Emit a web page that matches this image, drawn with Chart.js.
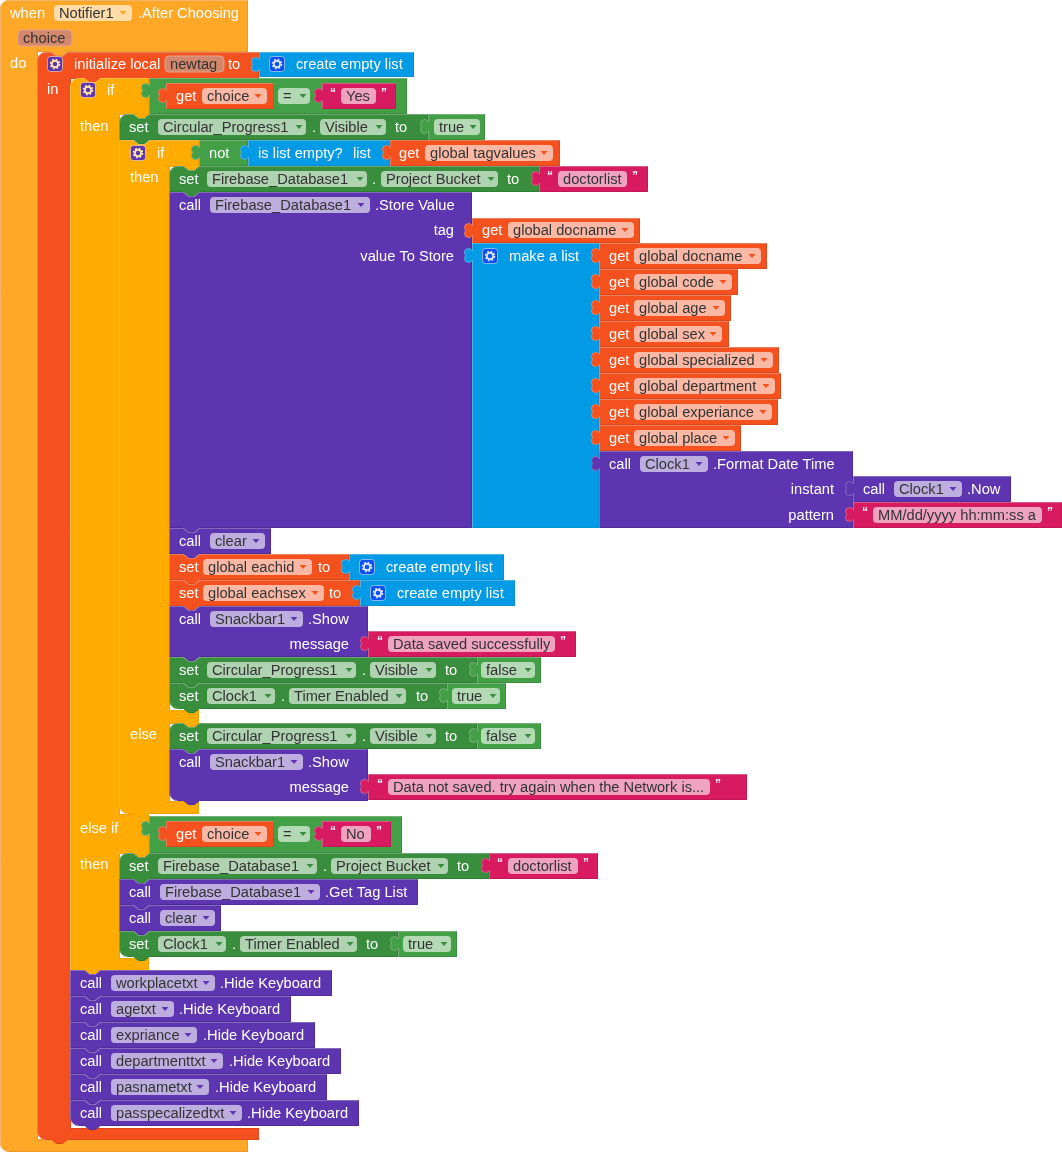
<!DOCTYPE html>
<html>
<head>
<meta charset="utf-8">
<title>Notifier1 After Choosing blocks</title>
<script src="https://cdn.jsdelivr.net/npm/chart.js@4/dist/chart.umd.min.js"></script>
<style>
  html, body { margin: 0; padding: 0; background: #fff; }
  canvas { display: block; }
</style>
</head>
<body>
<canvas id="blocks" width="1062" height="1152"></canvas>
<script>
// --- values, in picture pixels ---

// kind, left, spine, flags, arms [top, bottom, right]
const containers = [
  ['event', 0, 37, 'tb', [[0, 51, 247], [1139, 1151, 247]]],
  ['local', 37, 70, 'tb', [[52, 78, 258], [1128, 1139, 258]]],
  ['control', 70, 119, 't', [[78, 114, 148], [814, 853, 148], [958, 970, 148]]],
  ['control', 119, 169, 'b', [[140, 166, 198], [710, 723, 198], [801, 813, 198]]]
];

// kind, left, top, right, bottom, flags
const statementBlocks = [
  ['setGreen', 119, 114, 428, 140, 't'],
  ['setGreen', 169, 166, 539, 192, 't'],
  ['callPurple', 169, 192, 472, 528, ''],
  ['callPurple', 169, 528, 271, 554, ''],
  ['setOrange', 169, 554, 349, 580, ''],
  ['setOrange', 169, 580, 360, 606, ''],
  ['callPurple', 169, 606, 368, 657, ''],
  ['setGreen', 169, 657, 477, 683, ''],
  ['setGreen', 169, 683, 447, 709, 'b'],
  ['setGreen', 169, 723, 477, 749, 't'],
  ['callPurple', 169, 749, 368, 801, 'b'],
  ['setGreen', 119, 853, 489, 879, 't'],
  ['callPurple', 119, 879, 418, 905, ''],
  ['callPurple', 119, 905, 221, 931, ''],
  ['setGreen', 119, 931, 398, 957, 'b'],
  ['callPurple', 70, 970, 332, 996, ''],
  ['callPurple', 70, 996, 291, 1022, ''],
  ['callPurple', 70, 1022, 315, 1048, ''],
  ['callPurple', 70, 1048, 341, 1074, ''],
  ['callPurple', 70, 1074, 327, 1100, ''],
  ['callPurple', 70, 1100, 359, 1126, 'b']
];

// kind, left, top, right, bottom
const valueBlocks = [
  ['listBlue', 259, 52, 414, 77],
  ['logicGreen', 149, 78, 407, 114],
  ['getOrange', 166, 83, 274, 109],
  ['stringPink', 322, 83, 396, 109],
  ['logicGreen', 428, 114, 485, 140],
  ['logicGreen', 199, 140, 248, 166],
  ['listBlue', 248, 140, 390, 166],
  ['getOrange', 390, 140, 560, 166],
  ['stringPink', 539, 166, 648, 192],
  ['getOrange', 472, 218, 640, 243],
  ['listBlue', 472, 243, 599, 528],
  ['getOrange', 599, 243, 767, 269],
  ['getOrange', 599, 269, 738, 295],
  ['getOrange', 599, 295, 731, 321],
  ['getOrange', 599, 321, 729, 347],
  ['getOrange', 599, 347, 779, 373],
  ['getOrange', 599, 373, 781, 399],
  ['getOrange', 599, 399, 778, 425],
  ['getOrange', 599, 425, 741, 451],
  ['callValue', 599, 451, 853, 528],
  ['callValue', 853, 476, 1011, 502],
  ['stringPink', 853, 502, 1062, 528],
  ['listBlue', 349, 554, 504, 580],
  ['listBlue', 360, 580, 515, 606],
  ['stringPink', 368, 631, 576, 657],
  ['logicGreen', 477, 657, 541, 683],
  ['logicGreen', 447, 683, 506, 709],
  ['logicGreen', 477, 723, 541, 749],
  ['stringPink', 368, 774, 747, 800],
  ['logicGreen', 149, 816, 402, 853],
  ['getOrange', 166, 821, 274, 847],
  ['stringPink', 322, 821, 391, 847],
  ['stringPink', 489, 853, 598, 879],
  ['logicGreen', 398, 931, 457, 957]
];

// text, x, y
const whiteLabels = [
  ['when', 10, 13], ['.After Choosing', 138, 13], ['do', 10, 63], ['in', 47, 89],
  ['initialize local', 74, 64], ['to', 228, 64], ['create empty list', 296, 64],
  ['if', 107, 90], ['get', 176, 96], ['then', 80, 126], ['set', 129, 127], ['.', 312, 127], ['to', 395, 127],
  ['if', 157, 153], ['not', 209, 153], ['is list empty?', 258, 153], ['list', 353, 153], ['get', 399, 153],
  ['then', 130, 177], ['set', 179, 179], ['.', 372, 179], ['to', 507, 179],
  ['call', 179, 205], ['.Store Value', 375, 205], ['get', 482, 230], ['make a list', 509, 256],
  ['get', 609, 256], ['get', 609, 282], ['get', 609, 308], ['get', 609, 334],
  ['get', 609, 360], ['get', 609, 386], ['get', 609, 412], ['get', 609, 438],
  ['call', 609, 464], ['.Format Date Time', 713, 464], ['call', 863, 489], ['.Now', 967, 489],
  ['call', 179, 541], ['set', 179, 567], ['to', 318, 567], ['create empty list', 386, 567],
  ['set', 179, 593], ['to', 329, 593], ['create empty list', 397, 593],
  ['call', 179, 619], ['.Show', 308, 619],
  ['set', 179, 670], ['.', 362, 670], ['to', 445, 670],
  ['set', 179, 696], ['.', 281, 696], ['to', 416, 696],
  ['else', 130, 734], ['set', 179, 736], ['.', 362, 736], ['to', 445, 736],
  ['call', 179, 762], ['.Show', 308, 762],
  ['else if', 80, 828], ['get', 176, 834],
  ['then', 80, 864], ['set', 129, 866], ['.', 323, 866], ['to', 457, 866],
  ['call', 129, 892], ['.Get Tag List', 325, 892], ['call', 129, 918],
  ['set', 129, 944], ['.', 232, 944], ['to', 366, 944],
  ['call', 80, 983], ['.Hide Keyboard', 220, 983],
  ['call', 80, 1009], ['.Hide Keyboard', 179, 1009],
  ['call', 80, 1035], ['.Hide Keyboard', 203, 1035],
  ['call', 80, 1061], ['.Hide Keyboard', 229, 1061],
  ['call', 80, 1087], ['.Hide Keyboard', 215, 1087],
  ['call', 80, 1113], ['.Hide Keyboard', 247, 1113]
];

// text, right edge, y
const rightLabels = [
  ['tag', 454, 230], ['value To Store', 454, 256], ['instant', 834, 489], ['pattern', 834, 515],
  ['message', 349, 644], ['message', 349, 787]
];

// text, left, right, y
const eventFields = [['Notifier1', 54, 132, 13]];
const variableFields = [['choice', 18, 72, 38], ['newtag', 165, 224, 64]];
const orangeFields = [
  ['choice', 202, 267, 96], ['global tagvalues', 425, 553, 153], ['global docname', 508, 634, 230],
  ['global docname', 634, 761, 256], ['global code', 634, 732, 282], ['global age', 634, 725, 308],
  ['global sex', 634, 722, 334], ['global specialized', 634, 773, 360], ['global department', 634, 775, 386],
  ['global experiance', 634, 772, 412], ['global place', 634, 735, 438],
  ['global eachid', 203, 312, 567], ['global eachsex', 203, 324, 593], ['choice', 202, 267, 834]
];
const greenFields = [
  ['=', 278, 310, 96], ['Circular_Progress1', 158, 306, 127], ['Visible', 320, 386, 127], ['true', 434, 480, 127],
  ['Firebase_Database1', 207, 367, 179], ['Project Bucket', 381, 498, 179],
  ['Circular_Progress1', 207, 356, 670], ['Visible', 370, 436, 670], ['false', 481, 535, 670],
  ['Clock1', 207, 275, 696], ['Timer Enabled', 289, 406, 696], ['true', 452, 500, 696],
  ['Circular_Progress1', 207, 356, 736], ['Visible', 370, 436, 736], ['false', 481, 535, 736],
  ['=', 278, 310, 834], ['Firebase_Database1', 158, 317, 866], ['Project Bucket', 331, 448, 866],
  ['Clock1', 158, 226, 944], ['Timer Enabled', 240, 357, 944], ['true', 403, 451, 944]
];
const purpleFields = [
  ['Firebase_Database1', 210, 370, 205], ['Clock1', 640, 708, 464], ['Clock1', 894, 962, 489],
  ['clear', 210, 265, 541], ['Snackbar1', 210, 303, 619], ['Snackbar1', 210, 303, 762],
  ['Firebase_Database1', 160, 320, 892], ['clear', 160, 215, 918],
  ['workplacetxt', 111, 215, 983], ['agetxt', 111, 174, 1009], ['expriance', 111, 197, 1035],
  ['departmenttxt', 111, 223, 1061], ['pasnametxt', 111, 209, 1087], ['passpecalizedtxt', 111, 242, 1113]
];
const stringFields = [
  ['Yes', 341, 376, 96], ['doctorlist', 558, 627, 179], ['MM/dd/yyyy hh:mm:ss a', 873, 1042, 515],
  ['Data saved successfully', 388, 555, 644], ['Data not saved. try again when the Network is...', 388, 710, 787],
  ['No', 341, 371, 834], ['doctorlist', 508, 578, 866]
];

// left, top of each gear button
const purpleGears = [[47, 56], [80, 82], [130, 145]];
const blueGears = [[269, 56], [482, 248], [359, 559], [370, 585]];

const palette = {
  event: ['#FFA726', '#EC962A'],
  local: ['#F4511E', '#DE481A'],
  control: ['#FFAB00', '#F0A000'],
  setGreen: ['#388E3C', '#2F8035'],
  logicGreen: ['#43A047', '#3A8F3E'],
  callPurple: ['#5E35B1', '#4F2B9B'],
  callValue: ['#5E35B1', '#4F2B9B'],
  setOrange: ['#F4511E', '#DE481A'],
  getOrange: ['#F4511E', '#DE481A'],
  stringPink: ['#D81B60', '#C21755'],
  listBlue: ['#039BE5', '#0290D4']
};

// --- outlines, built from the values above. `lit` is the left and top run that gets the highlight ---

function corner(cx, cy, r, from, to) {
  const pts = [];
  for (let i = 0; i <= 4; i++) {
    const a = (from + (to - from) * i / 4) * Math.PI / 180;
    pts.push({ x: cx + r * Math.cos(a), y: cy + r * Math.sin(a) });
  }
  return pts;
}

function notchTop(l, t) {
  return [{ x: l + 14, y: t }, { x: l + 19, y: t + 4 }, { x: l + 25, y: t + 4 }, { x: l + 30, y: t }];
}

function bumpBottom(l, b) {
  return [{ x: l + 30, y: b }, { x: l + 25, y: b + 4 }, { x: l + 19, y: b + 4 }, { x: l + 14, y: b }];
}

function statementOutline(l, t, r, b, flags) {
  const bottomLeft = flags.includes('b') ? corner(l + 8, b - 8, 8, 90, 180) : [{ x: l, y: b }];
  const topLeft = flags.includes('t') ? corner(l + 8, t + 8, 8, 180, 270) : [{ x: l, y: t }];
  const lit = bottomLeft.concat(topLeft, notchTop(l, t), [{ x: r, y: t }]);
  const rest = [{ x: r, y: b }].concat(bumpBottom(l, b));
  return { points: lit.concat(rest, [lit[0]]), lit };
}

function valueOutline(l, t, r, b) {
  const lit = [
    { x: l, y: b }, { x: l, y: t + 17 }, { x: l - 3, y: t + 19 }, { x: l - 7, y: t + 18 },
    { x: l - 8, y: t + 15 }, { x: l - 7, y: t + 12 }, { x: l - 8, y: t + 9 },
    { x: l - 7, y: t + 6 }, { x: l - 3, y: t + 5 }, { x: l, y: t + 7 },
    { x: l, y: t }, { x: r, y: t }
  ];
  return { points: lit.concat([{ x: r, y: b }, lit[0]]), lit };
}

function containerOutline(l, spine, flags, arms) {
  const top = arms[0][0];
  const last = arms[arms.length - 1];
  const bottomLeft = flags.includes('b') ? corner(l + 8, last[1] - 8, 8, 90, 180) : [{ x: l, y: last[1] }];
  const topLeft = flags.includes('t') ? corner(l + 8, top + 8, 8, 180, 270) : [{ x: l, y: top }];
  let lit = bottomLeft.concat(topLeft);
  if (l > 0) lit = lit.concat(notchTop(l, top));
  lit.push({ x: arms[0][2], y: top });
  let rest = [];
  arms.forEach((arm, i) => {
    if (i > 0) rest.push({ x: arm[2], y: arm[0] });
    rest.push({ x: arm[2], y: arm[1] });
    if (i < arms.length - 1) {
      rest = rest.concat(bumpBottom(spine, arm[1]));
      rest.push({ x: spine, y: arm[1] }, { x: spine, y: arms[i + 1][0] });
    }
  });
  if (l > 0) rest = rest.concat(bumpBottom(l, last[1]));
  return { points: lit.concat(rest, [lit[0]]), lit };
}

// the stroke sits inside the far edge, so right and bottom come in by one pixel
const shapes = [];
containers.forEach(c => shapes.push([c[0], containerOutline(c[1], c[2], c[3], c[4])]));
statementBlocks.forEach(s => shapes.push([s[0], statementOutline(s[1], s[2], s[3] - 1, s[4] - 1, s[5])]));
valueBlocks.forEach(v => shapes.push([v[0], valueOutline(v[1], v[2], v[3] - 1, v[4] - 1)]));

const datasets = [];
shapes.forEach((s, i) => {
  datasets.push({
    label: s[0],
    data: s[1].points,
    showLine: true,
    fill: 'shape',
    tension: 0,
    pointRadius: 0,
    borderWidth: 1,
    borderColor: palette[s[0]][1],
    backgroundColor: palette[s[0]][0],
    order: -2 * i
  });
  datasets.push({
    label: s[0] + ' highlight',
    data: s[1].lit,
    showLine: true,
    fill: false,
    tension: 0,
    pointRadius: 0,
    borderWidth: 1,
    borderColor: 'rgba(255,255,255,0.3)',
    order: -2 * i - 1
  });
});

// --- fields, labels and gear buttons, placed through the chart's scales ---

const textFont = '14.67px "Liberation Sans"';

const blockText = {
  id: 'blockText',
  afterDatasetsDraw(chart) {
    const { ctx, scales: { x, y } } = chart;
    const px = v => Math.floor(x.getPixelForValue(v));
    const py = v => Math.floor(y.getPixelForValue(v));
    const textY = v => py(v) + 1; // canvas 'middle' sits a pixel above the block text

    function pill(x0, x1, yc, fill, stroke) {
      ctx.beginPath();
      ctx.roundRect(px(x0), py(yc - 8), px(x1) - px(x0), py(yc + 8) - py(yc - 8), 4);
      ctx.fillStyle = fill;
      ctx.fill();
      if (stroke) {
        ctx.strokeStyle = stroke;
        ctx.lineWidth = 1;
        ctx.stroke();
      }
    }

    function field(f, fill, arrow, stroke, arrowInset) {
      pill(f[1], f[2], f[3], fill, stroke);
      ctx.fillStyle = '#333';
      ctx.font = textFont;
      ctx.textAlign = 'left';
      ctx.fillText(f[0], px(f[1]) + 5, textY(f[3]));
      if (arrow) {
        const ax = px(f[2]) - arrowInset;
        const ay = py(f[3]) - 2;
        ctx.beginPath();
        ctx.moveTo(ax - 3.5, ay);
        ctx.lineTo(ax + 3.5, ay);
        ctx.lineTo(ax, ay + 4);
        ctx.closePath();
        ctx.fillStyle = arrow;
        ctx.fill();
      }
    }

    function gear(g, back, cog, rim) {
      const cx = px(g[0]) + 8;
      const cy = py(g[1]) + 8;
      ctx.beginPath();
      ctx.roundRect(cx - 7.5, cy - 7.5, 15, 15, 3);
      ctx.fillStyle = back;
      ctx.fill();
      ctx.strokeStyle = rim;
      ctx.lineWidth = 1;
      ctx.stroke();
      ctx.strokeStyle = cog;
      ctx.beginPath();
      ctx.arc(cx, cy, 3.1, 0, Math.PI * 2);
      ctx.lineWidth = 1.7;
      ctx.stroke();
      ctx.setLineDash([1.9, 1.63]);
      ctx.beginPath();
      ctx.arc(cx, cy, 4.5, 0, Math.PI * 2);
      ctx.lineWidth = 1.6;
      ctx.stroke();
      ctx.setLineDash([]);
    }

    ctx.save();
    ctx.textBaseline = 'middle';

    eventFields.forEach(f => field(f, 'rgba(255,255,255,0.6)', '#FFA726', null, 9));
    variableFields.forEach(f => field(f, '#D3876C', null, '#E6A48E'));
    orangeFields.forEach(f => field(f, 'rgba(255,255,255,0.6)', '#F4511E', null, 9));
    greenFields.forEach(f => field(f, 'rgba(255,255,255,0.6)', '#388E3C', null, 7));
    purpleFields.forEach(f => field(f, 'rgba(255,255,255,0.6)', '#5E35B1', null, 9));
    stringFields.forEach(f => {
      field(f, 'rgba(255,255,255,0.6)', null);
      ctx.fillStyle = '#fff';
      ctx.font = 'bold 12px "Liberation Sans"';
      ctx.textAlign = 'left';
      ctx.fillText('\u201C', px(f[1]) - 11, py(f[3]) - 2);
      ctx.fillText('\u201D', px(f[2]) + 5, py(f[3]) - 2);
    });

    ctx.font = textFont;
    ctx.fillStyle = '#fff';
    ctx.textAlign = 'left';
    whiteLabels.forEach(l => ctx.fillText(l[0], px(l[1]), textY(l[2])));
    ctx.textAlign = 'right';
    rightLabels.forEach(l => ctx.fillText(l[0], px(l[1]), textY(l[2])));

    purpleGears.forEach(g => gear(g, '#5E35B1', '#FFE9A8', 'rgba(255,235,180,0.6)'));
    blueGears.forEach(g => gear(g, '#0D4FF0', '#DCE8FF', 'rgba(255,255,255,0.5)'));

    ctx.restore();
  }
};

new Chart(document.getElementById('blocks').getContext('2d'), {
  type: 'scatter',
  data: { datasets },
  options: {
    responsive: false,
    animation: false,
    devicePixelRatio: 1,
    layout: { padding: 0 },
    events: [],
    plugins: { legend: { display: false }, tooltip: { enabled: false } },
    scales: {
      // half-pixel offset keeps the 1px block edges crisp
      x: { type: 'linear', display: false, min: -0.5, max: 1061.5 },
      y: { type: 'linear', display: false, min: -0.5, max: 1151.5, reverse: true }
    }
  },
  plugins: [blockText]
});
</script>
</body>
</html>
